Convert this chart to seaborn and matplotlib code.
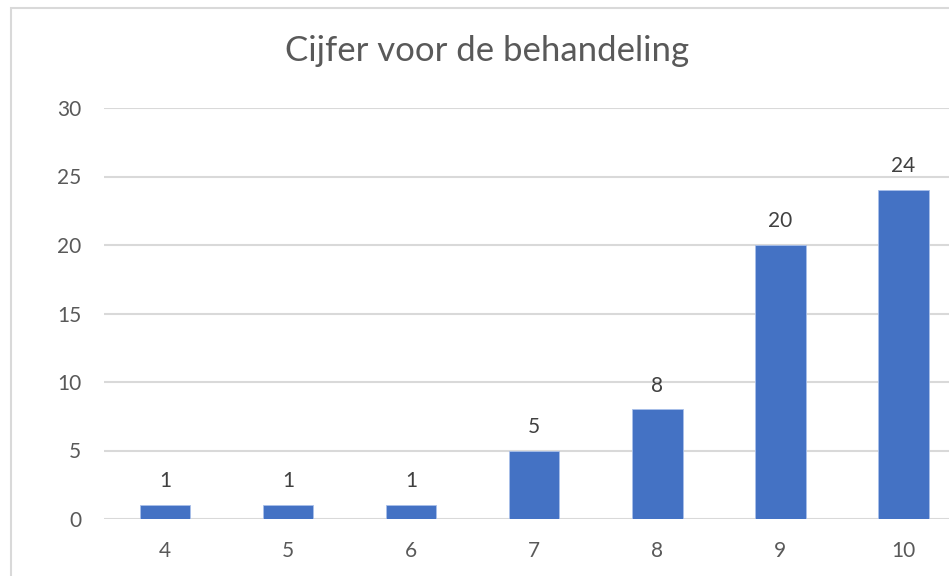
import matplotlib
matplotlib.use("Agg")
import matplotlib.pyplot as plt
import seaborn as sns
import pandas as pd
from matplotlib.patches import Rectangle

cijfers = ["4", "5", "6", "7", "8", "9", "10"]
aantal = [1, 1, 1, 5, 8, 20, 24]

df = pd.DataFrame({"cijfer": cijfers, "aantal": aantal})

sns.set_style("white")
plt.rcParams['font.family'] = ['Lato', 'DejaVu Sans']

fig = plt.figure(figsize=(9.49, 5.76), dpi=100)
ax = fig.add_axes([103.5 / 949, 1 - 519 / 576, (965 - 103.5) / 949, (519 - 108) / 576])

sns.barplot(data=df, x="cijfer", y="aantal", color="#4472c4", width=0.41,
            saturation=1, ax=ax, zorder=3, edgecolor="#a9c0ea", linewidth=0.6)

ax.set_ylim(0, 30)
ax.set_yticks(range(0, 31, 5))
ax.set_xlim(-0.5, 6.5)
ax.yaxis.grid(True, color="#d9d9d9", linewidth=1.5, zorder=0)
ax.set_axisbelow(True)
for s in ax.spines.values():
    s.set_visible(False)
ax.tick_params(axis="both", length=0, labelsize=15, colors="#595959")
ax.tick_params(axis="y", pad=16)
ax.tick_params(axis="x", pad=16)
ax.set_xlabel("")
ax.set_ylabel("")

for c in ax.containers:
    ax.bar_label(c, labels=[str(v) for v in aantal], padding=10, fontsize=15, color="#404040")

fig.text(487 / 949, 1 - 51 / 576, "Cijfer voor de behandeling", ha="center", va="center",
         fontsize=25, color="#595959")

# chart border (Excel style)
fig.patches.append(Rectangle((10.5 / 949, -0.1), 1.2, 1 - 7.5 / 576 + 0.1,
                             transform=fig.transFigure, fill=False,
                             edgecolor="#d9d9d9", linewidth=1.5))

fig.savefig("out.png", dpi=100)
